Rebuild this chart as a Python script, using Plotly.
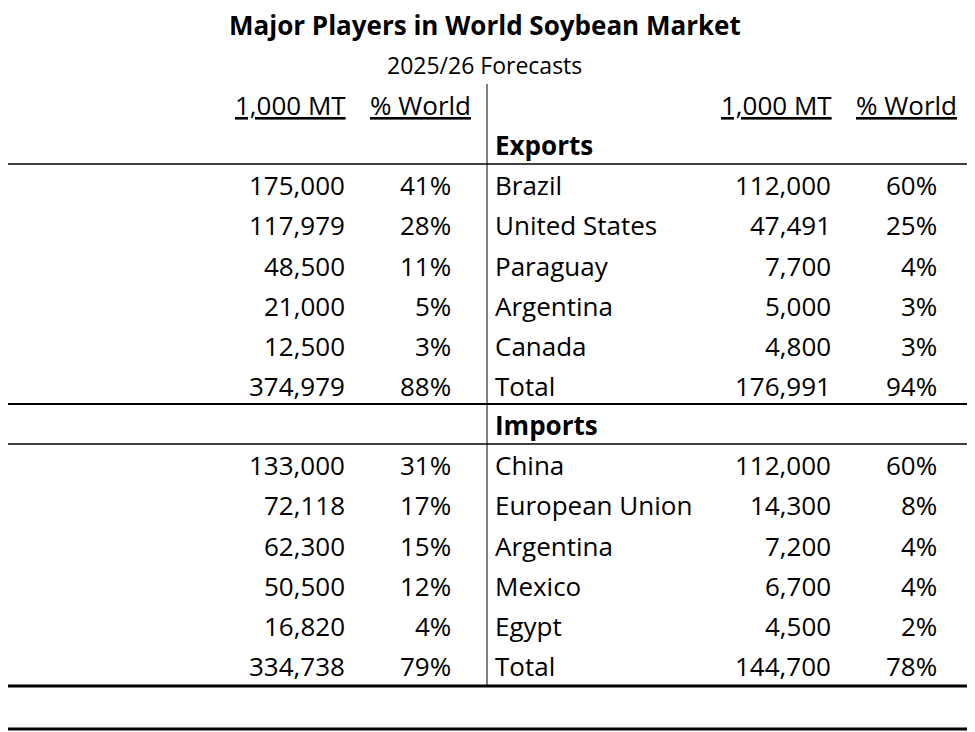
import plotly.graph_objects as go

# --- data ---
prod_names = ["Brazil", "United States", "Argentina", "China", "India", "Total"]
prod_mt = [175000, 117979, 48500, 21000, 12500, 374979]
prod_pct = [41, 28, 11, 5, 3, 88]

exp_names = ["Brazil", "United States", "Paraguay", "Argentina", "Canada", "Total"]
exp_mt = [112000, 47491, 7700, 5000, 4800, 176991]
exp_pct = [60, 25, 4, 3, 3, 94]

cons_names = ["China", "United States", "Brazil", "Argentina", "European Union", "Total"]
cons_mt = [133000, 72118, 62300, 50500, 16820, 334738]
cons_pct = [31, 17, 15, 12, 4, 79]

imp_names = ["China", "European Union", "Argentina", "Mexico", "Egypt", "Total"]
imp_mt = [112000, 14300, 7200, 6700, 4500, 144700]
imp_pct = [60, 8, 4, 4, 2, 78]

FONT = "Open Sans"
SIZE = 26
W, H = 975, 732
OFF = 8  # page body margin in the browser
ROW = 40.2

fig = go.Figure()
ann = []


def txt(x, y, s, anchor="left", size=SIZE, bold=False):
    if bold:
        s = f"<b>{s}</b>"
    ann.append(dict(x=x, y=y, xref="x", yref="y", text=s, showarrow=False,
                    xanchor=anchor, yanchor="middle",
                    font=dict(family=FONT, size=size, color="black")))


def block(x0, y0, title, names, mt, pct):
    txt(x0, y0, title, bold=True, size=SIZE)
    for i, (n, v, p) in enumerate(zip(names, mt, pct)):
        y = y0 + ROW * (i + 1)
        txt(x0, y, n)
        txt(x0 + 340, y, f"{v:,}", anchor="right")
        txt(x0 + 446, y, f"{p}%", anchor="right")


txt(485, 25, "Major Players in World Soybean Market", anchor="center", bold=True, size=26)
txt(484, 65, "2025/26 Forecasts", anchor="center", size=23)
for xo in (0, 486):
    txt(xo + 290, 105, "<u>1,000 MT</u>", anchor="center")
    txt(xo + 420, 105, "<u>% World</u>", anchor="center")

block(7, 145, "Production", prod_names, prod_mt, prod_pct)
block(493, 145, "Exports", exp_names, exp_mt, exp_pct)
block(7, 425, "Consumption", cons_names, cons_mt, cons_pct)
block(493, 425, "Imports", imp_names, imp_mt, imp_pct)
txt(7, 709, "Source: USDA - FAS")

shapes = [
    dict(type="rect", x0=2, y0=2, x1=972, y1=729, line=dict(color="black", width=3)),
    dict(type="line", x0=487, x1=487, y0=84, y1=686, line=dict(color="black", width=1)),
    dict(type="line", x0=2, x1=972, y0=164, y1=164, line=dict(color="black", width=1.5)),
    dict(type="line", x0=2, x1=972, y0=404, y1=404, line=dict(color="black", width=2)),
    dict(type="line", x0=2, x1=972, y0=444, y1=444, line=dict(color="black", width=1.5)),
    dict(type="line", x0=2, x1=972, y0=686, y1=686, line=dict(color="black", width=3)),
]
for s in shapes:
    s.update(xref="x", yref="y")

fig.update_layout(
    width=W - OFF, height=H - OFF, margin=dict(l=0, r=0, t=0, b=0),
    paper_bgcolor="white", plot_bgcolor="white",
    xaxis=dict(range=[OFF, W], visible=False, fixedrange=True),
    yaxis=dict(range=[H, OFF], visible=False, fixedrange=True),
    annotations=ann, shapes=shapes, showlegend=False,
)
fig.write_html("out.html")
